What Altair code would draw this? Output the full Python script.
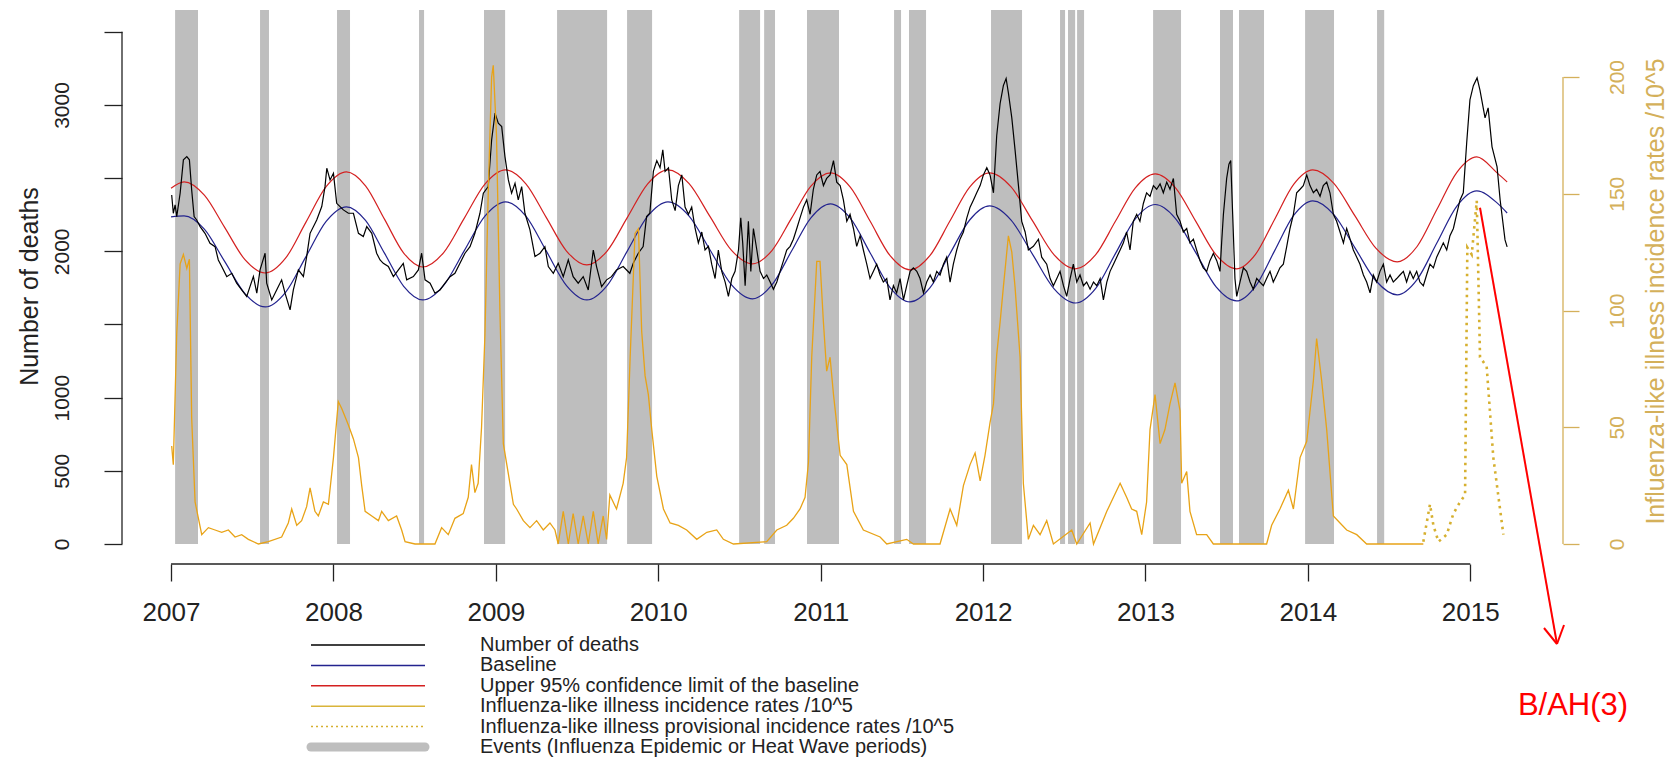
import altair as alt
import pandas as pd

# ---------------- data ----------------
year_ticks = [2007, 2008, 2009, 2010, 2011, 2012, 2013, 2014, 2015]
death_ticks = [0, 500, 1000, 1500, 2000, 2500, 3000, 3500]
ili_ticks = [0, 50, 100, 150, 200]

event_start = [2007.025, 2007.548, 2008.022, 2008.527, 2008.927, 2009.377, 2009.808,
               2010.498, 2010.652, 2010.916, 2011.452, 2011.544, 2012.049, 2012.474,
               2012.523, 2012.579, 2013.047, 2013.459, 2013.576, 2013.983, 2014.426]
event_end = [2007.166, 2007.603, 2008.102, 2008.558, 2009.057, 2009.685, 2009.962,
             2010.627, 2010.719, 2011.113, 2011.495, 2011.649, 2012.240, 2012.505,
             2012.567, 2012.622, 2013.219, 2013.539, 2013.730, 2014.161, 2014.470]

death_year = [
    2007.004, 2007.014, 2007.025, 2007.035, 2007.056, 2007.076, 2007.097, 2007.113, 2007.127, 2007.142,
    2007.158, 2007.179, 2007.209, 2007.240, 2007.271, 2007.291, 2007.312, 2007.343, 2007.374, 2007.404,
    2007.435, 2007.466, 2007.486, 2007.507, 2007.528, 2007.548, 2007.579, 2007.589, 2007.620, 2007.651,
    2007.681, 2007.702, 2007.733, 2007.753, 2007.784, 2007.815, 2007.835, 2007.856, 2007.897, 2007.928,
    2007.948, 2007.959, 2007.979,
    2008.000, 2008.020, 2008.061, 2008.092, 2008.123, 2008.154, 2008.184, 2008.205, 2008.236, 2008.266,
    2008.287, 2008.307, 2008.338, 2008.369, 2008.400, 2008.430, 2008.451, 2008.492, 2008.523, 2008.543,
    2008.564, 2008.595, 2008.625, 2008.656, 2008.687, 2008.718, 2008.748, 2008.779, 2008.810, 2008.841,
    2008.871, 2008.902, 2008.923, 2008.953, 2008.974, 2008.995,
    2009.015, 2009.036, 2009.056, 2009.077, 2009.097, 2009.118, 2009.138, 2009.159, 2009.179, 2009.210,
    2009.241, 2009.272, 2009.302, 2009.323, 2009.354, 2009.384, 2009.415, 2009.446, 2009.476, 2009.507,
    2009.538, 2009.569, 2009.600, 2009.620, 2009.651, 2009.682, 2009.712, 2009.743, 2009.784, 2009.825,
    2009.846, 2009.877, 2009.907, 2009.928, 2009.948, 2009.970, 2009.991,
    2010.011, 2010.028, 2010.042, 2010.063, 2010.083, 2010.104, 2010.124, 2010.145, 2010.165, 2010.186,
    2010.206, 2010.227, 2010.247, 2010.268, 2010.288, 2010.309, 2010.329, 2010.350, 2010.370, 2010.391,
    2010.412, 2010.432, 2010.453, 2010.473, 2010.494, 2010.508, 2010.520, 2010.535, 2010.555, 2010.570,
    2010.586, 2010.607, 2010.627, 2010.648, 2010.668, 2010.689, 2010.709, 2010.730, 2010.750, 2010.771,
    2010.791, 2010.812, 2010.832, 2010.853, 2010.873, 2010.894, 2010.914, 2010.935, 2010.955, 2010.976,
    2010.996,
    2011.017, 2011.037, 2011.058, 2011.079, 2011.099, 2011.120, 2011.140, 2011.161, 2011.181, 2011.202,
    2011.222, 2011.243, 2011.263, 2011.284, 2011.304, 2011.325, 2011.345, 2011.366, 2011.386, 2011.407,
    2011.427, 2011.448, 2011.468, 2011.489, 2011.510, 2011.530, 2011.551, 2011.571, 2011.592, 2011.612,
    2011.633, 2011.653, 2011.674, 2011.694, 2011.715, 2011.735, 2011.756, 2011.776, 2011.797, 2011.817,
    2011.838, 2011.858, 2011.879, 2011.900, 2011.920, 2011.941, 2011.961, 2011.982,
    2012.002, 2012.023, 2012.043, 2012.064, 2012.084, 2012.105, 2012.125, 2012.142, 2012.156, 2012.177,
    2012.197, 2012.218, 2012.238, 2012.259, 2012.279, 2012.310, 2012.341, 2012.361, 2012.392, 2012.413,
    2012.433, 2012.454, 2012.474, 2012.495, 2012.515, 2012.536, 2012.556, 2012.577, 2012.597, 2012.618,
    2012.638, 2012.659, 2012.680, 2012.700, 2012.721, 2012.741, 2012.762, 2012.782, 2012.803, 2012.823,
    2012.844, 2012.864, 2012.884, 2012.905, 2012.925, 2012.946, 2012.966, 2012.987,
    2013.007, 2013.028, 2013.049, 2013.069, 2013.090, 2013.110, 2013.131, 2013.151, 2013.172, 2013.192,
    2013.213, 2013.233, 2013.254, 2013.274, 2013.295, 2013.315, 2013.336, 2013.356, 2013.377, 2013.397,
    2013.418, 2013.439, 2013.459, 2013.469, 2013.480, 2013.500, 2013.514, 2013.525, 2013.537, 2013.551,
    2013.562, 2013.582, 2013.603, 2013.623, 2013.644, 2013.664, 2013.685, 2013.705, 2013.726, 2013.746,
    2013.767, 2013.787, 2013.808, 2013.828, 2013.849, 2013.870, 2013.890, 2013.911, 2013.931, 2013.952,
    2013.972, 2013.993,
    2014.013, 2014.034, 2014.054, 2014.075, 2014.095, 2014.116, 2014.136, 2014.157, 2014.177, 2014.198,
    2014.219, 2014.239, 2014.260, 2014.280, 2014.301, 2014.321, 2014.342, 2014.362, 2014.383, 2014.403,
    2014.424, 2014.444, 2014.465, 2014.485, 2014.506, 2014.526, 2014.547, 2014.567, 2014.588, 2014.608,
    2014.629, 2014.649, 2014.670, 2014.690, 2014.711, 2014.731, 2014.752, 2014.773, 2014.793, 2014.814,
    2014.834, 2014.855, 2014.875, 2014.896, 2014.916, 2014.937, 2014.957, 2014.978, 2014.998, 2015.019,
    2015.042, 2015.060, 2015.091, 2015.110, 2015.134, 2015.165, 2015.184, 2015.214, 2015.227,
]
death_value = [
    2385, 2260, 2317, 2237, 2397, 2625, 2647, 2625, 2420, 2237,
    2214, 2169, 2123, 2055, 2032, 1941, 1896, 1827, 1850, 1782,
    1736, 1691, 1759, 1828, 1714, 1873, 1987, 1782, 1668, 1737,
    1805, 1714, 1600, 1737, 1873, 1828, 1964, 2123, 2214, 2306,
    2442, 2568, 2488,
    2533, 2328, 2283, 2260, 2260, 2123, 2101, 2169, 2123, 1987,
    1941, 1918, 1896, 1827, 1873, 1918, 1805, 1827, 1873, 1987,
    1805, 1782, 1714, 1736, 1782, 1827, 1850, 1918, 1987, 2032,
    2123, 2260, 2397, 2442, 2761, 2944,
    2875, 2852, 2647, 2488, 2397, 2465, 2351, 2442, 2260, 2146,
    1964, 1987, 2032, 1896, 1850, 1918, 1827, 1941, 1827, 1782,
    1827, 1736, 2009, 1896, 1759, 1805, 1827, 1873, 1896, 1850,
    1918, 1987, 2032, 2237, 2260, 2546, 2620,
    2571, 2693, 2546, 2571, 2351, 2278, 2449, 2522, 2302, 2253,
    2302, 2156, 2058, 2132, 2009, 2034, 1912, 1814, 2009, 1863,
    1790, 1692, 1814, 1863, 2009, 2229, 2058, 1765, 2205, 1863,
    2156, 2009, 1863, 1814, 1838, 1790, 1741, 1790, 1863, 1936,
    2009, 2034, 2083, 2156, 2229, 2302, 2351, 2253, 2424, 2522,
    2546,
    2449, 2498, 2522, 2620, 2473, 2449, 2351, 2205, 2253, 2156,
    2034, 2107, 2009, 1912, 1814, 1863, 1912, 1838, 1790, 1814,
    1668, 1765, 1716, 1814, 1668, 1765, 1863, 1887, 1863, 1814,
    1716, 1790, 1838, 1790, 1863, 1838, 1912, 1960, 1790, 1912,
    2009, 2083, 2132, 2229, 2302, 2351, 2400, 2449,
    2522, 2571, 2522, 2400, 2790, 3010, 3132, 3181, 3083, 2912,
    2693, 2449, 2205, 2132, 2009, 2034, 2083, 1960, 1912, 1814,
    1765, 1814, 1863, 1765, 1692, 1814, 1912, 1790, 1838, 1765,
    1790, 1741, 1790, 1765, 1814, 1668, 1790, 1863, 1912, 1960,
    2009, 2058, 2132, 2009, 2205, 2253, 2205, 2327,
    2400, 2376, 2449, 2424, 2461, 2400, 2473, 2424, 2498, 2253,
    2205, 2132, 2156, 2058, 2083, 2009, 1936, 1887, 1863, 1936,
    1985, 1936, 1863, 2058, 2253, 2498, 2595, 2620, 2253, 1814,
    1692, 1790, 1887, 1863, 1790, 1741, 1814, 1790, 1765, 1814,
    1863, 1790, 1838, 1887, 1912, 2034, 2156, 2253, 2400, 2424,
    2449, 2522,
    2449, 2400, 2424, 2376, 2449, 2473, 2400, 2253, 2205, 2132,
    2058, 2156, 2083, 2009, 1960, 1912, 1838, 1790, 1716, 1838,
    1790, 1863, 1912, 1790, 1838, 1790, 1814, 1838, 1863, 1790,
    1863, 1814, 1863, 1790, 1765, 1838, 1912, 1887, 1960, 2009,
    2058, 2009, 2107, 2156, 2253, 2351, 2400, 2742, 3035, 3132,
    3185, 3100, 2912, 2980, 2714, 2577, 2351, 2078, 2030,
]

curve_year = [
    2007.0, 2007.08, 2007.205, 2007.33, 2007.455, 2007.58, 2007.705, 2007.83, 2007.955,
    2008.08, 2008.1975, 2008.315, 2008.4325, 2008.55, 2008.6775, 2008.805, 2008.9325,
    2009.06, 2009.185, 2009.31, 2009.435, 2009.56, 2009.685, 2009.81, 2009.935,
    2010.06, 2010.19, 2010.32, 2010.45, 2010.58, 2010.70, 2010.82, 2010.94,
    2011.06, 2011.1825, 2011.305, 2011.4275, 2011.55, 2011.6725, 2011.795, 2011.9175,
    2012.04, 2012.1725, 2012.305, 2012.4375, 2012.57, 2012.6925, 2012.815, 2012.9375,
    2013.06, 2013.185, 2013.31, 2013.435, 2013.56, 2013.6775, 2013.795, 2013.9125,
    2014.03, 2014.16, 2014.29, 2014.42, 2014.55, 2014.6725, 2014.795, 2014.9175,
    2015.04, 2015.165, 2015.227,
]
baseline_value = [
    2235, 2242, 2151, 1931, 1711, 1620, 1720, 1962, 2204,
    2304, 2211, 1986, 1761, 1668, 1766, 2003, 2240,
    2338, 2240, 2003, 1766, 1668, 1766, 2003, 2240,
    2338, 2241, 2007, 1772, 1675, 1770, 2000, 2229,
    2324, 2226, 1989, 1752, 1654, 1750, 1982, 2214,
    2310, 2213, 1979, 1744, 1647, 1745, 1984, 2222,
    2320, 2224, 1991, 1757, 1661, 1761, 2003, 2245,
    2345, 2251, 2024, 1797, 1703, 1807, 2058, 2309,
    2413, 2331, 2262,
]
upper_value = [
    2431, 2475, 2384, 2164, 1943, 1852, 1953, 2198, 2442,
    2543, 2448, 2218, 1988, 1893, 1990, 2225, 2459,
    2556, 2461, 2232, 2002, 1907, 2002, 2232, 2461,
    2556, 2462, 2235, 2008, 1914, 2005, 2225, 2445,
    2536, 2439, 2205, 1970, 1873, 1970, 2205, 2439,
    2536, 2440, 2208, 1976, 1880, 1975, 2205, 2434,
    2529, 2434, 2205, 1975, 1880, 1979, 2218, 2457,
    2556, 2464, 2242, 2020, 1928, 2033, 2287, 2540,
    2645, 2536, 2474,
]

ili_year = [
    2007.004, 2007.014, 2007.035, 2007.056, 2007.076, 2007.097, 2007.113, 2007.127, 2007.148, 2007.189,
    2007.230, 2007.271, 2007.312, 2007.353, 2007.394, 2007.435, 2007.476, 2007.538, 2007.599, 2007.681,
    2007.722, 2007.743, 2007.774, 2007.804, 2007.835, 2007.856, 2007.886, 2007.907, 2007.938, 2007.969,
    2008.000, 2008.030, 2008.051, 2008.092, 2008.123, 2008.154, 2008.174, 2008.195, 2008.236, 2008.277,
    2008.297, 2008.338, 2008.389, 2008.420, 2008.441, 2008.502, 2008.625, 2008.666, 2008.707, 2008.748,
    2008.799, 2008.830, 2008.850, 2008.871, 2008.891, 2008.912, 2008.933, 2008.953, 2008.974, 2008.984,
    2009.004, 2009.025, 2009.046, 2009.077, 2009.108, 2009.128, 2009.169, 2009.210, 2009.251, 2009.292,
    2009.333, 2009.364, 2009.384, 2009.415, 2009.446, 2009.476, 2009.507, 2009.538, 2009.569, 2009.600,
    2009.630, 2009.661, 2009.682, 2009.702, 2009.743, 2009.784, 2009.805, 2009.827, 2009.857, 2009.878,
    2009.898, 2009.919, 2009.939, 2009.960, 2009.991, 2010.032, 2010.073, 2010.124, 2010.175, 2010.237,
    2010.299, 2010.360, 2010.401, 2010.463, 2010.668, 2010.730, 2010.791, 2010.832, 2010.873, 2010.904,
    2010.925, 2010.945, 2010.976, 2010.996, 2011.017, 2011.037, 2011.058, 2011.079, 2011.120, 2011.161,
    2011.202, 2011.263, 2011.366, 2011.407, 2011.530, 2011.571, 2011.735, 2011.797, 2011.838, 2011.879,
    2011.920, 2011.951, 2011.982, 2012.012, 2012.043, 2012.064, 2012.084, 2012.105, 2012.125, 2012.156,
    2012.177, 2012.197, 2012.228, 2012.248, 2012.279, 2012.310, 2012.351, 2012.392, 2012.433, 2012.546,
    2012.577, 2012.659, 2012.680, 2012.762, 2012.803, 2012.844, 2012.884, 2012.915, 2012.946, 2012.977,
    2013.007, 2013.028, 2013.059, 2013.090, 2013.120, 2013.151, 2013.182, 2013.213, 2013.223, 2013.254,
    2013.274, 2013.315, 2013.377, 2013.418, 2013.746, 2013.777, 2013.828, 2013.880, 2013.911, 2013.952,
    2013.993, 2014.034, 2014.054, 2014.085, 2014.116, 2014.157, 2014.198, 2014.239, 2014.301, 2014.362,
    2014.711,
]
ili_value = [
    42, 34, 90, 120, 124, 118, 122, 54, 18, 4,
    7, 6, 5, 6, 3, 4, 2, 0, 1, 3,
    9, 15, 8, 10, 16, 24, 14, 12, 18, 17,
    37, 61, 58, 51, 45, 37, 25, 14, 12, 10,
    14, 10, 12, 6, 1, 0, 0, 7, 4, 11,
    13, 20, 34, 22, 26, 50, 90, 150, 200, 205,
    175, 100, 43, 30, 17, 15, 10, 7, 10, 6,
    9, 6, 0, 14, 0, 13, 0, 12, 0, 14,
    0, 12, 2, 21, 15, 26, 37, 80, 133, 135,
    91, 72, 64, 49, 29, 15, 9, 8, 6, 2,
    5, 6, 2, 0, 1, 6, 8, 11, 15, 20,
    35, 80, 121, 121, 95, 74, 80, 64, 38, 34,
    14, 6, 3, 0, 2, 0, 0, 15, 8, 25,
    34, 39, 27, 38, 52, 60, 81, 95, 110, 132,
    125, 110, 80, 26, 2, 8, 4, 10, 0, 6,
    0, 9, 0, 14, 20, 26, 20, 15, 14, 4,
    18, 49, 64, 43, 49, 60, 69, 57, 26, 31,
    14, 4, 4, 0, 0, 8, 15, 23, 15, 37,
    44, 70, 88, 70, 49, 12, 9, 6, 4, 0,
    0,
]

prov_year = [2014.711, 2014.752, 2014.773, 2014.804, 2014.855, 2014.896, 2014.937, 2014.968,
             2014.982, 2015.009, 2015.040, 2015.060, 2015.101, 2015.142, 2015.204]
prov_value = [1, 17, 8, 1, 4, 13, 18, 21, 127, 124, 147, 80, 76, 37, 4]

legend_labels = [
    "Number of deaths",
    "Baseline",
    "Upper 95% confidence limit of the baseline",
    "Influenza-like illness incidence rates /10^5",
    "Influenza-like illness provisional incidence rates /10^5",
    "Events (Influenza Epidemic or Heat Wave periods)",
]
annotation_text = "B/AH(3)"
annotation_point = (2015.06, 144)

assert len(death_year) == len(death_value)
assert len(curve_year) == len(baseline_value) == len(upper_value)
assert len(ili_year) == len(ili_value)
assert len(prov_year) == len(prov_value)

# ---------------- styling ----------------
FONT = "Liberation Sans"
W, H = 1441, 534
X0, X1 = 2006.698, 2015.571
D_TOP = 3649
I_TOP = 228.7
GOLD = "#D4B05A"
ILI_COL = "#E8A317"
PROV_COL = "#D6B030"
BLUE = "#23238E"
RED = "#D42020"
GRAY = "#BEBEBE"
INK = "#222222"

deaths_df = pd.DataFrame({"year": death_year, "deaths": death_value})
curve_df = pd.DataFrame({"year": curve_year, "baseline": baseline_value, "upper": upper_value})
ili_df = pd.DataFrame({"year": ili_year, "rate": ili_value})
prov_df = pd.DataFrame({"year": prov_year, "rate": prov_value})
events_df = pd.DataFrame({"start": event_start, "end": event_end})
one = pd.DataFrame({"k": [0]})

x_scale = alt.Scale(domain=[X0, X1], nice=False, zero=False)
x_axis = alt.Axis(values=year_ticks, format="d", title=None, domain=False, grid=False,
                  tickSize=17, tickColor=INK, tickWidth=1.3, labelFontSize=26, labelColor=INK,
                  labelFont=FONT, labelPadding=18, offset=20, labelFlush=False, labelOverlap=False)

yl_scale = alt.Scale(domain=[0, D_TOP], nice=False, zero=True)
yl_axis = alt.Axis(values=death_ticks, format="d",
                   labelExpr="(datum.value==1500||datum.value==2500||datum.value==3500)?'':datum.label",
                   domain=False, grid=False, tickSize=18, tickColor=INK, tickWidth=1.3,
                   labelAngle=270, labelAlign="center", labelBaseline="middle", labelPadding=42,
                   labelFontSize=21, labelColor=INK, labelFont=FONT, labelFlush=False, labelOverlap=False,
                   title="Number of deaths", titleAngle=270, titleX=-93, titleY=276, titleFontSize=25,
                   titleFontWeight="normal", titleFont=FONT, titleColor=INK, titleAlign="center",
                   titleBaseline="middle")

yr_scale = alt.Scale(domain=[0, I_TOP], nice=False, zero=True)
yr_axis = alt.Axis(orient="right", values=ili_ticks, format="d", domain=False, grid=False,
                   tickSize=16, tickColor=GOLD, tickWidth=1.3,
                   labelAngle=270, labelAlign="center", labelBaseline="middle", labelPadding=38,
                   labelFontSize=21, labelColor=GOLD, labelFont=FONT, labelFlush=False, labelOverlap=False,
                   title="Influenza-like illness incidence rates /10^5", titleAngle=270, titleX=92,
                   titleY=281, titleFontSize=25, titleFontWeight="normal", titleFont=FONT,
                   titleColor=GOLD, titleAlign="center", titleBaseline="middle")

X = lambda f: alt.X(f, scale=x_scale, axis=x_axis)

# ---- left (deaths) group ----
bands = alt.Chart(events_df).mark_rect(color=GRAY, opacity=1).encode(
    x=X("start:Q"), x2="end:Q",
    y=alt.YDatum(0, scale=yl_scale, axis=yl_axis), y2=alt.Y2Datum(D_TOP))
upper = alt.Chart(curve_df).mark_line(color=RED, strokeWidth=1.2, interpolate="monotone").encode(
    x=X("year:Q"), y=alt.Y("upper:Q", scale=yl_scale, axis=yl_axis))
base = alt.Chart(curve_df).mark_line(color=BLUE, strokeWidth=1.2, interpolate="monotone").encode(
    x=X("year:Q"), y=alt.Y("baseline:Q", scale=yl_scale, axis=yl_axis))
deaths = alt.Chart(deaths_df).mark_line(color="#000000", strokeWidth=1.2).encode(
    x=X("year:Q"), y=alt.Y("deaths:Q", scale=yl_scale, axis=yl_axis))
x_line = alt.Chart(one).mark_rule(color=INK, strokeWidth=1.3).encode(
    x=alt.XDatum(year_ticks[0], scale=x_scale, axis=x_axis), x2=alt.X2Datum(year_ticks[-1]),
    y=alt.value(H + 20))
yl_line = alt.Chart(one).mark_rule(color=INK, strokeWidth=1.3).encode(
    x=alt.value(0), y=alt.YDatum(death_ticks[0], scale=yl_scale, axis=yl_axis),
    y2=alt.Y2Datum(death_ticks[-1]))
left = alt.layer(bands, upper, base, deaths, x_line, yl_line)

# ---- right (ILI) group ----
ili = alt.Chart(ili_df).mark_line(color=ILI_COL, strokeWidth=1.3).encode(
    x=X("year:Q"), y=alt.Y("rate:Q", scale=yr_scale, axis=yr_axis))
prov = alt.Chart(prov_df).mark_line(color=PROV_COL, strokeWidth=2.6, strokeDash=[2.5, 4.5]).encode(
    x=X("year:Q"), y=alt.Y("rate:Q", scale=yr_scale, axis=yr_axis))
yr_line = alt.Chart(one).mark_rule(color=GOLD, strokeWidth=1.3).encode(
    x=alt.value(W), y=alt.YDatum(ili_ticks[0], scale=yr_scale, axis=yr_axis),
    y2=alt.Y2Datum(ili_ticks[-1]))
arrow = alt.Chart(one).mark_rule(color="#FF0000", strokeWidth=2).encode(
    x=alt.XDatum(annotation_point[0], scale=x_scale, axis=x_axis),
    y=alt.YDatum(annotation_point[1], scale=yr_scale, axis=yr_axis),
    x2=alt.value(1435), y2=alt.value(634))
right = alt.layer(ili, prov, yr_line, arrow)

# ---- annotation decorations ----
wing1 = alt.Chart(one).mark_rule(color="#FF0000", strokeWidth=2).encode(
    x=alt.value(1435), y=alt.value(634), x2=alt.value(1422), y2=alt.value(618))
wing2 = alt.Chart(one).mark_rule(color="#FF0000", strokeWidth=2).encode(
    x=alt.value(1435), y=alt.value(634), x2=alt.value(1442), y2=alt.value(615))
ann_text = alt.Chart(one).mark_text(text=annotation_text, fontSize=31, font=FONT, color="#FF0000",
                                    align="center", baseline="middle").encode(
    x=alt.value(1451), y=alt.value(696))

# ---- legend ----
legend_styles = [
    dict(color="#000000", strokeWidth=1.5),
    dict(color=BLUE, strokeWidth=1.5),
    dict(color=RED, strokeWidth=1.5),
    dict(color="#D9B43A", strokeWidth=1.5),
    dict(color=PROV_COL, strokeWidth=1.5, strokeDash=[2, 3]),
    dict(color=GRAY, strokeWidth=9, strokeCap="round"),
]
legend_layers = []
for i, (lab, sty) in enumerate(zip(legend_labels, legend_styles)):
    yy = 635 + i * 20.4
    legend_layers.append(alt.Chart(one).mark_rule(**sty).encode(
        x=alt.value(189), x2=alt.value(303), y=alt.value(yy), y2=alt.value(yy)))
    legend_layers.append(alt.Chart(one).mark_text(text=lab, fontSize=20, font=FONT, color=INK,
                                                  align="left", baseline="middle").encode(
        x=alt.value(358), y=alt.value(yy)))

chart = alt.layer(left, right, wing1, wing2, ann_text, *legend_layers).resolve_scale(
    y="independent"
).properties(
    width=W, height=H,
    padding={"left": 114, "top": 2, "right": 106, "bottom": 215},
    autosize=alt.AutoSizeParams(type="none"),
).configure_view(strokeWidth=0)

chart.save("out.html", embed_options={"renderer": "svg", "actions": False})
